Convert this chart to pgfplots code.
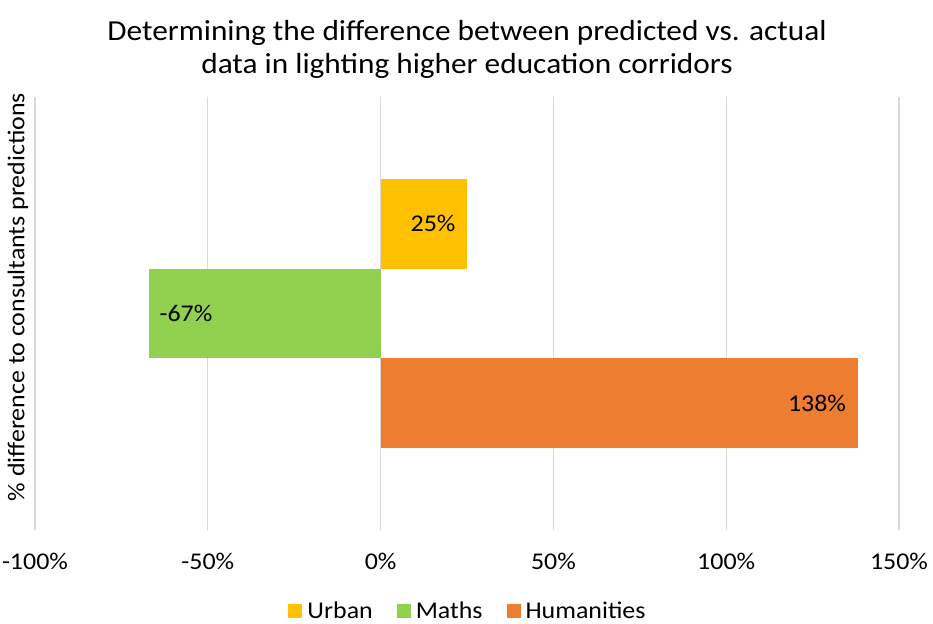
\documentclass[border=0pt]{standalone}
\usepackage{pgfplots}
\pgfplotsset{compat=1.18}
\usepackage{fontspec}
\setmainfont[FakeStretch=1.08]{Carlito}
\definecolor{urban}{HTML}{FFC000}
\definecolor{maths}{HTML}{92D050}
\definecolor{hum}{HTML}{ED7D31}
\definecolor{gridc}{HTML}{D9D9D9}
\begin{document}
\begin{tikzpicture}[x=1pt,y=1pt]
\path[use as bounding box] (-35,-93) rectangle (898,530);
\begin{axis}[
  at={(0,0)}, anchor=south west,
  scale only axis, width=864pt, height=433pt,
  xmin=-100, xmax=150, ymin=-2.415, ymax=2.415,
  xtick={-100,-50,0,50,100,150},
  xticklabels={-100\%,-50\%,0\%,50\%,100\%,150\%},
  ytick=\empty,
  axis line style={draw=none},
  major tick length=0pt,
  xmajorgrids, grid style={gridc, line width=1.2pt},
  x tick label style={font=\fontsize{24}{28}\selectfont, yshift=-20pt},
  xbar, bar width=1, bar shift=0pt,
  nodes near coords,
  every node near coord/.append style={font=\fontsize{24}{28}\selectfont, text=black},
  clip=false,
]
\addplot[fill=urban, draw=none, nodes near coords={25\%}, every node near coord/.append style={anchor=east, xshift=-8pt}] coordinates {(25,1)};
\addplot[fill=maths, draw=none, nodes near coords={-67\%}, every node near coord/.append style={anchor=west, xshift=7pt}] coordinates {(-67,0)};
\addplot[fill=hum, draw=none, nodes near coords={138\%}, every node near coord/.append style={anchor=east, xshift=-8pt}] coordinates {(138,-1)};
\end{axis}
\node[font=\fontsize{29}{33}\selectfont, align=center, anchor=center] at (432,481) {Determining the difference between predicted vs. actual\\data in lighting higher education corridors};
\node[font=\fontsize{24}{28}\selectfont, rotate=90] at (-17,233) {\% difference to consultants predictions};
\node[font=\fontsize{24}{28}\selectfont, anchor=center] at (432,-80) {%
\textcolor{urban}{\rule{14pt}{14pt}}\hspace{5pt}Urban\hspace{24pt}%
\textcolor{maths}{\rule{14pt}{14pt}}\hspace{5pt}Maths\hspace{24pt}%
\textcolor{hum}{\rule{14pt}{14pt}}\hspace{5pt}Humanities};
\end{tikzpicture}
\end{document}
